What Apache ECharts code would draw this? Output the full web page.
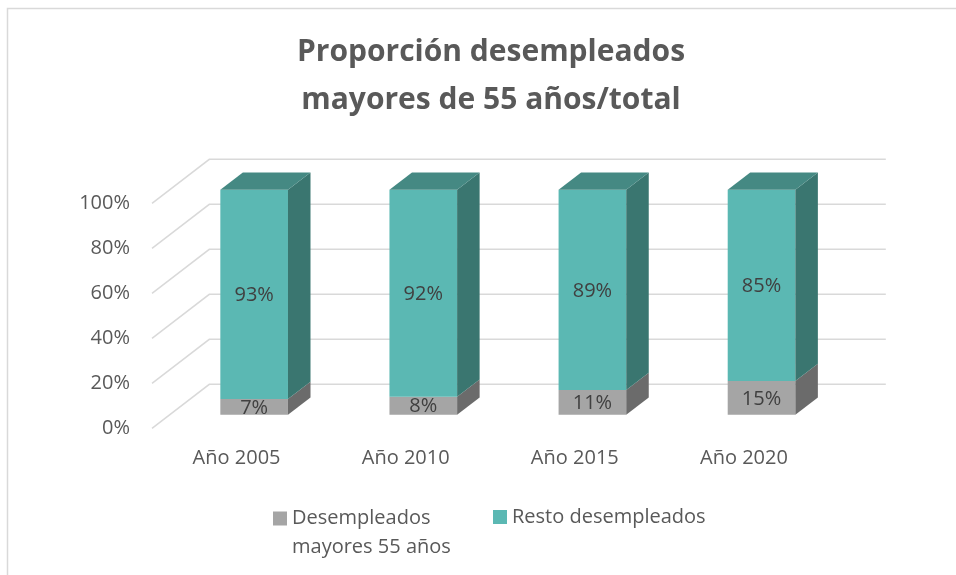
<!DOCTYPE html>
<html>
<head>
<meta charset="utf-8">
<script src="https://cdn.jsdelivr.net/npm/echarts@6/dist/echarts.min.js"></script>
<style>html,body{margin:0;padding:0;background:#fff;}#c{width:956px;height:575px;}</style>
</head>
<body>
<div id="c"></div>
<script>
var categories = ['Año 2005', 'Año 2010', 'Año 2015', 'Año 2020'];
var mayores55 = [7, 8, 11, 15];
var restoDesempleados = [93, 92, 89, 85];
var yTicks = [0, 20, 40, 60, 80, 100];
var seriesNames = ['Desempleados mayores 55 años', 'Resto desempleados'];

var FONT = '"Open Sans"';
var DX = 57.3, DY = -44;       // depth of the 3D wall
var FRONT = 0.307, BACK = 0.70; // bar depth range (fraction of wall depth)

var chart = echarts.init(document.getElementById('c'));

function makeBarRender(frontColor, sideColor, topColor, showTop) {
  return function (params, api) {
    var i = api.value(0), b = api.value(1), t = api.value(2), v = api.value(3);
    var p0 = api.coord([i, b]);
    var p1 = api.coord([i, t]);
    var bw = api.size([1, 0])[0] * 0.4;
    var fx = DX * FRONT, fy = DY * FRONT;
    var dx = DX * (BACK - FRONT), dy = DY * (BACK - FRONT);
    var xl = p0[0] - bw / 2 + fx, xr = xl + bw;
    var yb = p0[1] + fy, yt = p1[1] + fy;
    var children = [
      { type: 'polygon', shape: { points: [[xl, yb], [xr, yb], [xr, yt], [xl, yt]] }, style: { fill: frontColor } },
      { type: 'polygon', shape: { points: [[xr, yb], [xr + dx, yb + dy], [xr + dx, yt + dy], [xr, yt]] }, style: { fill: sideColor } }
    ];
    if (showTop) {
      children.push({ type: 'polygon', shape: { points: [[xl, yt], [xr, yt], [xr + dx, yt + dy], [xl + dx, yt + dy]] }, style: { fill: topColor } });
    }
    children.push({
      type: 'text', z2: 10,
      style: {
        text: v + '%', x: (xl + xr) / 2, y: (yb + yt) / 2 + 1,
        align: 'center', verticalAlign: 'middle',
        fill: '#404040', font: '20px ' + FONT
      }
    });
    return { type: 'group', children: children };
  };
}

var grayData = categories.map(function (c, i) { return [i, 0, mayores55[i], mayores55[i]]; });
var tealData = categories.map(function (c, i) { return [i, mayores55[i], mayores55[i] + restoDesempleados[i], restoDesempleados[i]]; });

var option = {
  animation: false,
  backgroundColor: '#ffffff',
  title: {
    text: 'Proporción desempleados\nmayores de 55 años/total',
    left: 491,
    top: 28,
    padding: 0,
    textAlign: 'center',
    textStyle: { fontFamily: FONT, fontWeight: 'bold', fontSize: 30, lineHeight: 48, color: '#595959' }
  },
  graphic: [{
    type: 'rect', silent: true,
    shape: { x: 7.5, y: 8.5, width: 2000, height: 2000 },
    style: { fill: 'none', stroke: '#D9D9D9', lineWidth: 1.5 }
  }],
  legend: [{
    data: [seriesNames[0]],
    left: 273, top: 475, padding: 0,
    itemWidth: 14, itemHeight: 14, icon: 'rect',
    formatter: function () { return '\nDesempleados\nmayores 55 años'; },
    textStyle: { fontFamily: FONT, fontSize: 20, color: '#595959', lineHeight: 29 }
  }, {
    data: [seriesNames[1]],
    left: 493, top: 503, padding: 0,
    itemWidth: 14, itemHeight: 14, icon: 'rect',
    textStyle: { fontFamily: FONT, fontSize: 20, color: '#595959', lineHeight: 28 }
  }],
  grid: { left: 152, right: 127.5, top: 203.3, bottom: 146.7 },
  xAxis: {
    type: 'category',
    data: categories,
    axisLine: { show: false },
    axisTick: { show: false },
    axisLabel: { margin: 20, fontFamily: FONT, fontSize: 20, color: '#595959' }
  },
  yAxis: {
    type: 'value',
    min: 0, max: 100, interval: 20,
    axisLine: { show: false },
    axisTick: { show: false },
    splitLine: { show: false },
    axisLabel: { margin: 22, fontFamily: FONT, fontSize: 20, color: '#595959', formatter: function (v) { return v + '%'; } }
  },
  series: [{
    type: 'custom',
    name: 'grid3d',
    silent: true,
    z: 1,
    data: yTicks.map(function (v) { return [0, v]; }),
    renderItem: function (params, api) {
      var y = api.coord([0, api.value(1)])[1];
      var cs = params.coordSys;
      var x0 = cs.x, x1 = cs.x + cs.width;
      return {
        type: 'polyline',
        shape: { points: [[x0, y], [x0 + DX, y + DY], [x1 + DX, y + DY]] },
        style: { fill: 'none', stroke: '#D9D9D9', lineWidth: 1.5 }
      };
    }
  }, {
    type: 'custom',
    name: seriesNames[0],
    z: 2,
    itemStyle: { color: '#A5A5A5' },
    encode: { x: 0, y: 2 },
    data: grayData,
    renderItem: makeBarRender('#A5A5A5', '#6B6B6B', '#8A8A8A', false)
  }, {
    type: 'custom',
    name: seriesNames[1],
    z: 3,
    itemStyle: { color: '#5BB8B3' },
    encode: { x: 0, y: 2 },
    data: tealData,
    renderItem: makeBarRender('#5BB8B3', '#3A7670', '#458983', true)
  }]
};
chart.setOption(option);
</script>
</body>
</html>
